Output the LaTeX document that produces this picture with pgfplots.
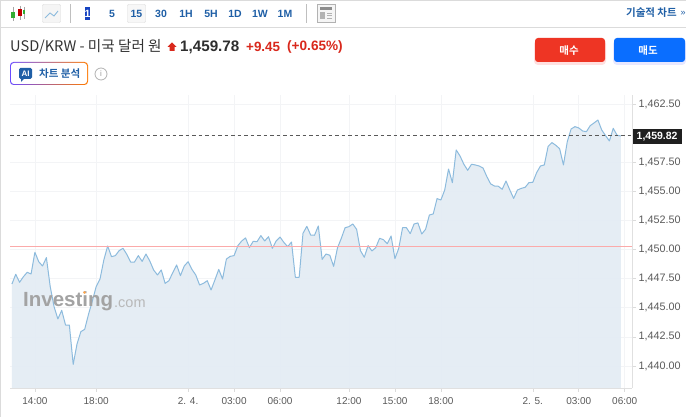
\documentclass[border=0pt]{standalone}
\usepackage{pgfplots}
\usepackage{pgfplotstable}
\usepackage{fontspec}
\pgfplotsset{compat=1.18}
\setmainfont{Liberation Sans}
\newfontfamily\kr{Noto Sans CJK KR}
\newfontfamily\krb{Noto Sans CJK KR Bold}
\definecolor{tickgray}{HTML}{5A5A5A}
\definecolor{barblue}{HTML}{1F5FA6}
\definecolor{linecol}{HTML}{8DBBDD}
\definecolor{areacol}{HTML}{E3ECF4}
\definecolor{gridcol}{HTML}{F3F4F6}
\definecolor{prevclose}{HTML}{FBAAAA}
\definecolor{upred}{HTML}{D9281C}
\pgfplotstableread{
k v
0 1447.04
1 1447.88
2 1447.19
3 1447.67
4 1448.05
5 1447.90
6 1449.77
7 1448.96
8 1448.59
9 1449.31
10 1446.82
11 1445.10
12 1444.04
13 1444.78
14 1443.52
15 1443.52
16 1440.14
17 1441.89
18 1442.95
19 1443.15
20 1444.44
21 1445.58
22 1446.82
23 1447.47
24 1449.11
25 1450.31
26 1449.39
27 1449.48
28 1449.91
29 1450.11
30 1449.59
31 1448.93
32 1448.93
33 1449.48
34 1448.99
35 1449.62
36 1449.02
37 1448.25
38 1447.82
39 1448.25
40 1447.10
41 1447.33
42 1448.02
43 1448.68
44 1447.76
45 1448.59
46 1448.96
47 1448.30
48 1447.82
49 1446.96
50 1447.10
51 1447.33
52 1446.53
53 1447.39
54 1448.30
55 1447.47
56 1449.19
57 1449.42
58 1449.48
59 1450.34
60 1450.74
61 1451.00
62 1450.17
63 1450.71
64 1450.68
65 1451.20
66 1450.74
67 1451.11
68 1450.11
69 1450.74
70 1451.08
71 1450.62
72 1450.25
73 1450.65
74 1447.62
75 1447.62
76 1451.40
77 1452.00
78 1451.25
79 1451.23
80 1452.03
81 1449.16
82 1449.62
83 1449.51
84 1448.56
85 1450.14
86 1450.97
87 1451.88
88 1451.97
89 1452.20
90 1451.74
91 1449.91
92 1449.34
93 1450.34
94 1449.88
95 1450.17
96 1450.97
97 1450.85
98 1450.51
99 1451.17
100 1449.22
101 1450.11
102 1451.88
103 1451.88
104 1451.37
105 1452.20
106 1452.29
107 1451.34
108 1451.74
109 1452.97
110 1453.06
111 1454.38
112 1454.26
113 1455.12
114 1456.92
115 1455.75
116 1458.56
117 1458.04
118 1457.33
119 1456.81
120 1457.33
121 1457.27
122 1457.18
123 1457.01
124 1456.27
125 1455.64
126 1455.46
127 1455.44
128 1455.18
129 1455.89
130 1455.12
131 1454.40
132 1455.12
133 1455.26
134 1455.35
135 1455.75
136 1455.78
137 1456.61
138 1457.18
139 1457.27
140 1458.87
141 1459.19
142 1458.96
143 1458.67
144 1457.27
145 1459.27
146 1460.36
147 1460.56
148 1460.45
149 1460.19
150 1460.13
151 1460.65
152 1460.88
153 1461.13
154 1460.27
155 1459.79
156 1459.33
157 1460.42
158 1459.82
159 1459.76
}\series
\pgfplotstableread{
k v
-0.5 1450.27
161.9 1450.27
}\prevclosedata
\pgfplotstableread{
k v
-0.5 1459.82
161.9 1459.82
}\lastdata
\begin{document}
\begin{tikzpicture}[x=1pt,y=1pt]
\useasboundingbox (0,0) rectangle (686,417);
\fill[white] (0,0) rectangle (686,417);
\begin{axis}[
  at={(10pt,29pt)}, anchor=south west,
  scale only axis, width=622pt, height=293pt,
  xmin=-0.5, xmax=161.9, ymin=1438.11, ymax=1463.28,
  axis x line*=bottom, axis y line*=right,
  axis line style={draw=black!12},
  xtick={6,22,46,58,70,88,100,112,136,148,160},
  xticklabels={14:00,18:00,2. 4.,03:00,06:00,12:00,15:00,18:00,2. 5.,03:00,06:00},
  ytick={1440,1442.5,1445,1447.5,1450,1452.5,1455,1457.5,1462.5},
  yticklabel style={font=\fontsize{10.8}{12}\selectfont,text=tickgray,xshift=-1pt},
  xticklabel style={font=\fontsize{10}{12}\selectfont,text=tickgray,yshift=-2pt},
  yticklabel={\pgfmathprintnumber[fixed,fixed zerofill,precision=2,1000 sep={,},assume math mode=true]{\tick}},
  scaled y ticks=false,
  tick style={draw=black!14,line width=0.6pt},
  major tick length=4pt,
  tick align=outside,
  xmajorgrids, ymajorgrids,
  grid style={draw=gridcol,line width=0.6pt},
  clip=true,
]
\addplot[fill=areacol,draw=none,fill opacity=0.92] table[x=k,y=v]{\series} \closedcycle;
\addplot[draw=linecol,line width=1pt,line join=round] table[x=k,y=v]{\series};
\addplot[color=prevclose,solid,line width=1pt] table[x=k,y=v]{\prevclosedata};
\addplot[draw=black!65,line width=0.7pt,dash pattern=on 3.5pt off 3pt] table[x=k,y=v]{\lastdata};
\end{axis}
\begin{scope}[yshift=417pt,y=-1pt]
% frame
\fill[black!14] (0,0) rectangle (686,1);
\fill[black!14] (0,27) rectangle (686,28);
\fill[black!14] (0,0) rectangle (1,417);
% candle icon
\draw[black!35,line width=0.8pt] (13,7)--(13,21) (20,6)--(20,20) (24,7)--(24,19);
\fill[green!60!black!80] (11,12) rectangle (15,18);
\fill[red!75!black] (18,9) rectangle (22,16);
\fill[green!60!black!80] (23,10) rectangle (25,14);
% line icon
\draw[black!15,fill=black!4,rounded corners=1pt] (42.5,4.5) rectangle (60.5,22.5);
\draw[linecol,line width=0.9pt] (45,18)--(50,13)--(54,16)--(58,11);
\fill[black!25] (70,4) rectangle (71,23);
% interval labels
\fill[barblue!70!blue] (85,7) rectangle (90,20.5);
\draw[black!15,fill=black!3,rounded corners=1pt] (127.5,4.5) rectangle (145.5,22.5);
\begin{scope}[every node/.style={font=\bfseries\fontsize{10.5}{12}\selectfont,text=barblue,inner sep=0pt}]
\node[text=white] at (87.5,13.5) {1};
\node at (112,13.5) {5};
\node at (136.5,13.5) {15};
\node at (161,13.5) {30};
\node at (186,13.5) {1H};
\node at (211,13.5) {5H};
\node at (235,13.5) {1D};
\node at (260,13.5) {1W};
\node at (285,13.5) {1M};
\end{scope}
\fill[black!25] (306,4) rectangle (307,23);
\draw[black!30,fill=black!4] (317,4.5) rectangle (335,22.5);
\fill[black!45] (320,7.5) rectangle (332,10);
\fill[black!30] (320,12) rectangle (325,19);
\draw[black!30,line width=0.8pt] (327,13)--(332,13) (327,15.5)--(332,15.5) (327,18)--(332,18);
\node[font=\krb\fontsize{10.5}{12}\selectfont,text=barblue,inner sep=0pt,anchor=east] at (677,13) {기술적 차트};
\node[font=\fontsize{9}{10}\selectfont,text=barblue,inner sep=0pt] at (683,13) {»};
% title
\node[anchor=west,inner sep=0pt,font=\kr\fontsize{14.6}{16}\selectfont,text=black!80] at (10,46.5) {USD/KRW - 미국 달러 원};
\fill[upred] (172,42.5)--(176.5,47)--(174.5,47)--(174.5,51)--(169.5,51)--(169.5,47)--(167.5,47)--cycle;
\node[anchor=west,inner sep=0pt,font=\bfseries\fontsize{15.2}{17}\selectfont,text=black!82] at (180,47) {1,459.78};
\node[anchor=west,inner sep=0pt,font=\bfseries\fontsize{13.4}{15}\selectfont,text=upred] at (246,46.5) {+9.45};
\node[anchor=west,inner sep=0pt,font=\bfseries\fontsize{13.6}{15}\selectfont,text=upred] at (287,46.5) {(+0.65\%)};
% buttons
\fill[red!12,rounded corners=4pt] (534,40) rectangle (606,65);
\fill[blue!9,rounded corners=4pt] (613,40) rectangle (686,65);
\definecolor{buyred}{HTML}{EE3524}\definecolor{sellblue}{HTML}{0A6EFF}
\fill[buyred,rounded corners=3pt] (535,38) rectangle (605,62);
\fill[sellblue,rounded corners=3pt] (614,38) rectangle (685,62);
\node[font=\krb\fontsize{10.5}{12}\selectfont,text=white,inner sep=0pt] at (569,50.5) {매수};
\node[font=\krb\fontsize{10.5}{12}\selectfont,text=white,inner sep=0pt] at (648,50.5) {매도};
% AI button
\definecolor{aip}{HTML}{6A4CFF}\definecolor{aim}{HTML}{E5409A}\definecolor{aio}{HTML}{FF7A00}
\shade[rounded corners=3.5pt,left color=aip,middle color=aim,right color=aio] (10,62) rectangle (88,85);
\fill[white,rounded corners=3pt] (11,63) rectangle (87,84);
\fill[barblue,rounded corners=1.5pt] (19,68) rectangle (32,79);
\fill[barblue] (21,78)--(21,82)--(25,78)--cycle;
\node[font=\bfseries\fontsize{8}{9}\selectfont,text=white,inner sep=0pt] at (25.5,73.5) {AI};
\node[font=\krb\fontsize{10.5}{12}\selectfont,text=barblue,inner sep=0pt,anchor=west] at (39,73.5) {차트 분석};
\draw[black!30,line width=0.8pt] (101,74) circle (6);
\node[font=\fontsize{8}{9}\selectfont,text=black!40,inner sep=0pt] at (101,74) {i};
% last-price flag
\fill[black!88] (633,129) rectangle (682,144);
\node[font=\bfseries\fontsize{10.5}{12}\selectfont,text=white,inner sep=0pt,anchor=west] at (636.5,136.5) {1,459.82};
% watermark
\node[anchor=west,inner sep=0pt,font=\bfseries\fontsize{20.5}{24}\selectfont,text=black!36] at (23,301.5) {Investing};
\node[anchor=west,inner sep=0pt,font=\fontsize{14.5}{16}\selectfont,text=black!28] at (114,304) {.com};
\fill[orange!70] (84.5,292.5) circle (1.3);
\end{scope}
\end{tikzpicture}
\end{document}
